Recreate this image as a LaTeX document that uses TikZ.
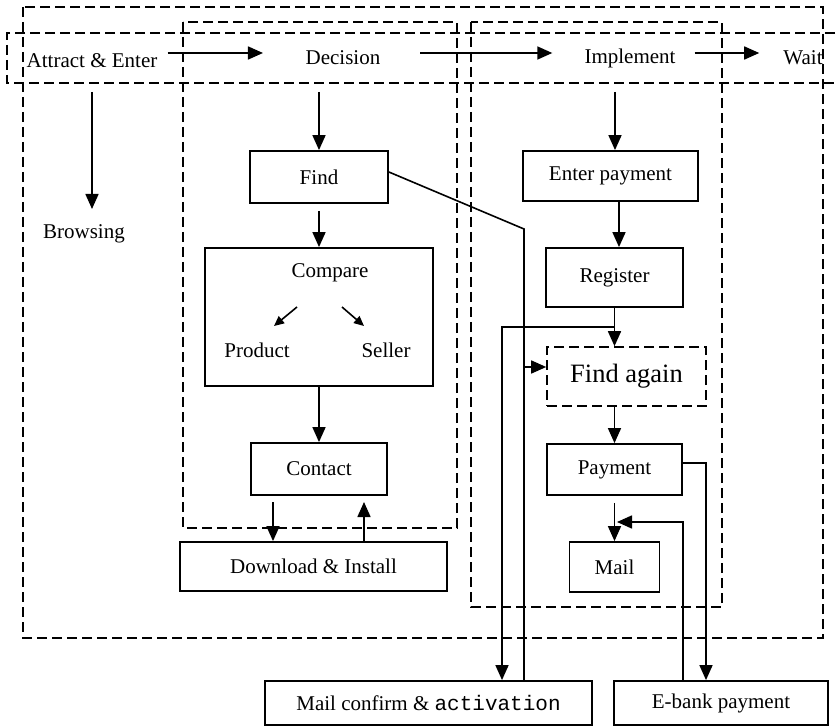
\documentclass[tikz,border=0pt]{standalone}
\usepackage{fontspec}
\setmainfont{Liberation Serif}
\setmonofont{Liberation Mono}
\usetikzlibrary{arrows.meta}
\begin{document}
\begin{tikzpicture}[x=1pt,y=-1pt,
  every node/.style={font=\fontsize{21}{25}\selectfont},
  lbl/.style={inner sep=2pt},
  box/.style={draw,line width=1.8pt,inner sep=0pt},
  dbox/.style={draw,line width=1.6pt,dash pattern=on 10pt off 5pt,inner sep=0pt},
  frame/.style={line width=1.6pt,dash pattern=on 10pt off 5pt},
  arr/.style={line width=1.6pt,-{Triangle[length=15pt,width=13pt]}},
  sarr/.style={line width=1.6pt,-{Triangle[length=10pt,width=9pt]}},
  ln/.style={line width=1.6pt}]
\useasboundingbox (0,0) rectangle (838,727);
% dashed frames
\draw[frame] (23,7) rectangle (823,638);
\draw[frame] (850,33) -- (7,33) -- (7,83) -- (850,83);
\draw[frame] (183,22) rectangle (457,528);
\draw[frame] (471,22) rectangle (722,607);
% band labels
\node[lbl] (attract) at (92,61) {Attract \& Enter};
\node[lbl] (decision) at (343,58) {Decision};
\node[lbl] (implement) at (630,58) {Implement};
\node[lbl] (wait) at (803,58) {Wait};
\node[lbl] (browsing) at (84,234) {Browsing};
% boxes
\node[box,minimum width=138pt,minimum height=52pt] (find) at (319,177) {Find};
\node[box,minimum width=228pt,minimum height=138pt] (compare) at (319,317) {};
\node[lbl,anchor=base] (cmp) at (330,278) {Compare};
\node[lbl,anchor=base] (product) at (257,357) {Product};
\node[lbl,anchor=base] (seller) at (386,357) {Seller};
\node[box,minimum width=136pt,minimum height=52pt] (contact) at (319,469) {Contact};
\node[box,minimum width=267pt,minimum height=49pt] (download) at (313.5,566.5) {Download \& Install};
\node[box,minimum width=175pt,minimum height=50pt] (enterpay) at (610.5,176) {Enter payment};
\node[box,minimum width=137pt,minimum height=59pt] (register) at (614.5,277.5) {Register};
\node[dbox,minimum width=159pt,minimum height=59pt,font=\fontsize{26.5}{30}\selectfont] (findagain) at (626.5,376.5) {Find again};
\node[box,minimum width=135pt,minimum height=51pt] (payment) at (614.5,469.5) {Payment};
\node[box,minimum width=90pt,minimum height=50pt] (mail) at (614.5,567) {Mail};
\node[box,minimum width=327pt,minimum height=44pt] (mailconf) at (428.5,703) {Mail confirm \& \texttt{activation}};
\node[box,minimum width=214pt,minimum height=44pt] (ebank) at (721,703) {E-bank payment};
% coordinates
\coordinate (bandbot) at (0,92);
\coordinate (brtip) at (92,209);
\coordinate (ca1) at (297,307);
\coordinate (ca2) at (274,326);
\coordinate (cb1) at (342,307);
\coordinate (cb2) at (364,326);
\coordinate (c1) at (273,502);
\coordinate (c2) at (364,502);
\coordinate (x619) at (619,0);
\coordinate (ib) at (615,92);
\coordinate (rb) at (502,327);
\coordinate (fk) at (524,229);
\coordinate (fa) at ([yshift=9.5pt]findagain.west);
\coordinate (pe) at (706,463);
\coordinate (em) at (683,522);
\coordinate (emtip) at (617,522);
% band arrows
\draw[arr] ([xshift=8pt,yshift=8pt]attract.east) -- ([xshift=-40.5pt,yshift=5pt]decision.west);
\draw[arr] ([xshift=37.5pt,yshift=5pt]decision.east) -- ([xshift=-30pt,yshift=5pt]implement.west);
\draw[arr] ([xshift=17pt,yshift=5pt]implement.east) -- ([xshift=-22pt,yshift=5pt]wait.west);
% down arrows
\draw[arr] (attract.south |- bandbot) -- (brtip);
\draw[arr] (find.north |- bandbot) -- (find.north);
\draw[arr] (ib) -- (ib |- enterpay.north);
% decision column
\draw[arr] ([yshift=-7pt]find.south) -- (compare.north);
\draw[sarr] (ca1) -- (ca2);
\draw[sarr] (cb1) -- (cb2);
\draw[arr] (compare.south) -- (contact.north);
\draw[arr] (c1) -- (c1 |- download.north);
\draw[arr] (c2 |- download.north) -- (c2);
% implement column
\draw[arr] (x619 |- enterpay.south) -- (x619 |- register.north);
\draw[arr] (register.south) -- (register.south |- findagain.north);
\draw[arr] (register.south |- rb) -- (rb) -- (rb |- mailconf.north);
\draw[ln] ([yshift=5pt]find.east) -- (fk) -- (fk |- mailconf.north);
\draw[arr] (fk |- fa) -- (fa);
\draw[arr] (payment.north |- findagain.south) -- (payment.north);
\draw[arr] ([yshift=-7pt]payment.south) -- (mail.north);
\draw[arr] (payment.east |- pe) -- (pe) -- (pe |- ebank.north);
\draw[arr] (em |- ebank.north) -- (em) -- (emtip);
\end{tikzpicture}
\end{document}
